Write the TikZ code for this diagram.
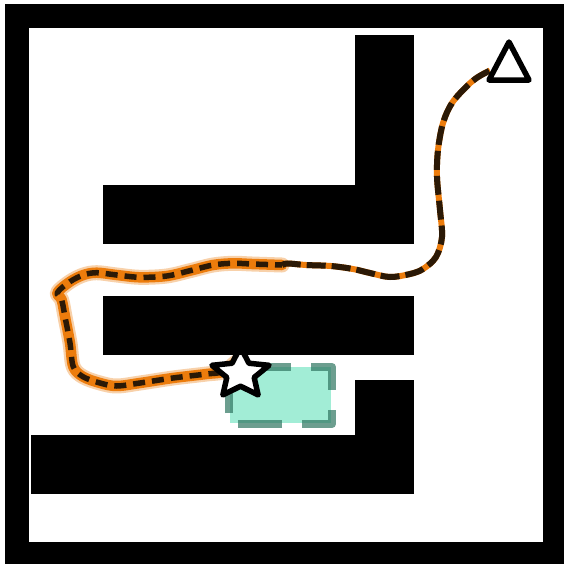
\documentclass[tikz,border=0pt]{standalone}
\begin{document}
\begin{tikzpicture}[x=1pt,y=-1pt]
\definecolor{pathorange}{HTML}{EC7C0C}
\definecolor{pathdark}{HTML}{2B1906}
\definecolor{goalfill}{HTML}{A2EDD6}
\definecolor{goaledge}{HTML}{2F7560}
\tikzset{
  wall/.style={fill=black},
  glow/.style={pathorange, line width=15, opacity=0.35, line cap=round, line join=round},
  orangewide/.style={pathorange, line width=10.5, line cap=round, line join=round},
  orangethin/.style={pathorange, line width=6, line cap=butt, line join=round},
  darkleft/.style={pathdark, line width=5.5, dash pattern=on 12pt off 7pt},
  darkright/.style={pathdark, line width=6, dash pattern=on 19pt off 6pt},
  marker/.style={draw=black, fill=white, line width=5.5, line join=round},
}
\useasboundingbox (0,0) rectangle (564,566);
% frame
\fill[black] (5.3,4.3) rectangle (564,564.3);
\fill[white] (28.5,27.5) rectangle (543.3,542.3);
% goal region
\fill[goalfill] (230,367) rectangle (331,423);
\draw[goaledge, opacity=0.7, line width=8, line join=round,
      dash pattern=on 44pt off 20pt, dash phase=46pt]
  (229,367) -- (332,367) -- (332,424) -- (229,424) -- cycle;
% path: left part (wide orange)
\def\leftpath{plot[smooth, tension=0.55] coordinates {
  (236,362) (223,371.7) (206.7,374) (173,378) (140,383) (116.7,386) (100,383)
  (83,376.7) (73.3,366.7) (70,343) (65,316.7) (61.7,300) (57.5,292.5)
  (70,281.7) (83.3,275) (96.7,272.7) (116.7,275) (140,277.3) (166.7,276)
  (190,270.7) (213,265) (233,263.3) (252,264) (282,265)}}
\def\rightpath{plot[smooth, tension=0.55] coordinates {
  (282,265) (288,263.5) (306,265) (331,266) (353,269) (370,273) (390,277)
  (410,274) (423,269) (436,257) (442,237) (440,210) (437,177) (438,150)
  (443,123) (452,103) (467,86) (478,77) (490,70.5)}}
\draw[glow] \leftpath;
\draw[orangewide] \leftpath;
\draw[orangethin] \rightpath;
\draw[darkleft] \leftpath;
\draw[darkright] \rightpath;
% start star
\coordinate (start) at (240.5,373.5);
\begin{scope}[shift={(start)}, xscale=1.132]
  \draw[marker] (-90:26.5) -- (-54:12.7) -- (-18:26.5) -- (18:12.7) -- (54:26.5)
    -- (90:12.7) -- (126:26.5) -- (162:12.7) -- (198:26.5) -- (234:12.7) -- cycle;
\end{scope}
% goal triangle
\coordinate (goal) at (509,67);
\draw[marker] (509,42) -- (529,80) -- (489,80) -- cycle;
% walls (on top)
\fill[wall] (354.6,35.3) rectangle (414,244);
\fill[wall] (103.3,185.4) rectangle (414,244);
\fill[wall] (103.3,296.3) rectangle (414,355.3);
\fill[wall] (354.6,379.8) rectangle (414,494.3);
\fill[wall] (31,435.2) rectangle (414,494.3);
\end{tikzpicture}
\end{document}
